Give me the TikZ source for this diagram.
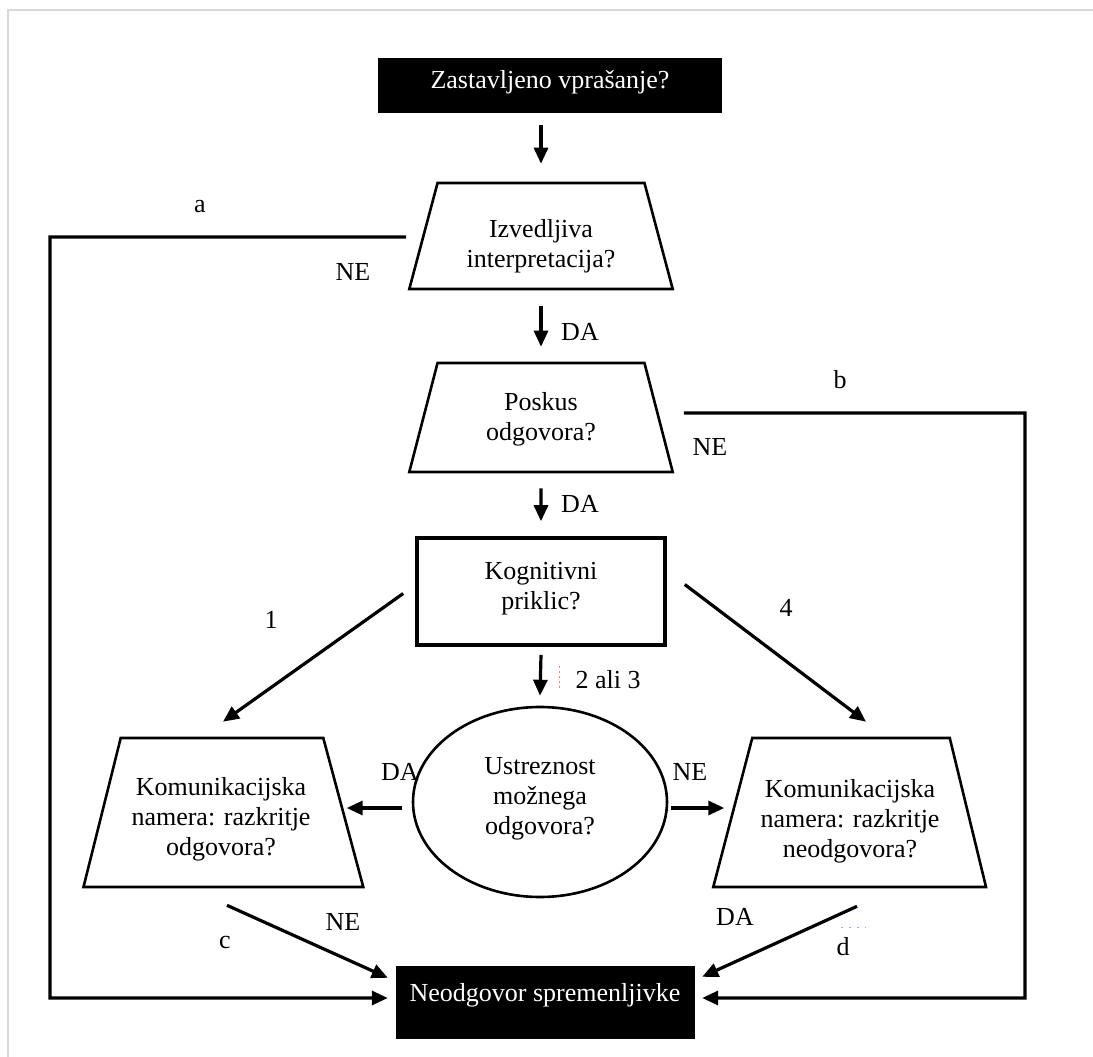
\documentclass[tikz,border=0pt]{standalone}
\usepackage{fontspec}
\setmainfont{Liberation Serif}
\usetikzlibrary{shapes.geometric,arrows.meta}
\begin{document}
\begin{tikzpicture}[x=1pt,y=-1pt,
  font=\fontsize{26}{30}\selectfont,
  arr/.style={line width=3.2pt,-{Triangle[length=16pt,width=14pt]}},
  trap/.style={draw,line width=2.6pt,trapezium,trapezium stretches=true,
    trapezium left angle=76,trapezium right angle=76,inner sep=0pt},
  blk/.style={fill=black,inner sep=0pt},
  lbl/.style={inner sep=0pt},
  txt/.style={inner sep=0pt,align=center}]
\path[use as bounding box] (0,0) rectangle (1093,1057);
\draw[gray!30,line width=1.5pt] (8,1057) -- (8,10) -- (1093,10);

% shapes
\node[blk,minimum width=344,minimum height=55] (q) at (550,85.5) {};
\node[trap,trapezium left angle=79.5,trapezium right angle=79.5,minimum width=264,minimum height=106] (t1) at (541,236) {\phantom{M}};
\node[trap,trapezium left angle=79.5,trapezium right angle=79.5,minimum width=264,minimum height=109] (t2) at (541,417.5) {\phantom{M}};
\node[draw,line width=3.6pt,minimum width=248,minimum height=107] (kp) at (541,591.5) {};
\node[draw,ellipse,line width=2.6pt,minimum width=254,minimum height=190,inner sep=0pt] (el) at (540,802) {};
\node[trap,trapezium right angle=75,minimum width=280,minimum height=149] (kl) at (222,812.5) {\phantom{M}};
\node[trap,trapezium left angle=75,minimum width=273,minimum height=149] (kr) at (851,812.5) {\phantom{M}};
\node[blk,minimum width=299,minimum height=73] (nr) at (545.5,1002.5) {};

% texts
\node[txt,text=white] (qt) at (550,82) {Zastavljeno vprašanje?};
\node[txt] (t1t) at (541,246) {Izvedljiva\\interpretacija?};
\node[txt] (t2t) at (541,419) {Poskus\\odgovora?};
\node[txt] (kpt) at (541,589) {Kognitivni\\priklic?};
\node[txt] (elt) at (540,799) {Ustreznost\\možnega\\odgovora?};
\node[txt] (klt) at (221,819) {Komunikacijska\\namera: razkritje\\odgovora?};
\node[txt] (krt) at (850,821) {Komunikacijska\\namera: razkritje\\neodgovora?};
\node[txt,text=white] (nrt) at (545,995) {Neodgovor spremenljivke};

\coordinate (aL) at (50,237);
\coordinate (bR) at (1025,413);

% connectors
\draw[arr] ([yshift=-12]q.south -| t1.north) -- ([yshift=18]t1.north);
\draw[arr] ([yshift=-16]t1.south) -- ([yshift=15]t2.north);
\draw[arr] ([yshift=-15]t2.south) -- ([yshift=15]kp.north);
\draw[arr] ([yshift=-8]kp.south) -- ([yshift=10]el.north);
\draw[arr] ([xshift=-12,yshift=-2]kp.west) -- ([xshift=1,yshift=15]kl.north);
\draw[arr] ([xshift=18,yshift=7]kp.east) -- ([xshift=15,yshift=15]kr.north);
\draw[arr] ([xshift=-10,yshift=-6]el.west) -- +(-55,0);
\draw[arr] ([xshift=3,yshift=-6]el.east) -- +(53,0);
\draw[arr] ([xshift=5,yshift=-17]kl.south) -- ([xshift=-8,yshift=-12]nr.north west);
\draw[arr] ([xshift=6,yshift=-18]kr.south) -- ([xshift=7,yshift=-11]nr.north east);
\draw[arr] ([xshift=-16,yshift=-1]t1.west) -- (aL) |- ([xshift=-8,yshift=4.5]nr.west);
\draw[arr] ([xshift=24,yshift=4.5]t2.east) -- (bR) |- ([xshift=7,yshift=4.5]nr.east);

% labels
\node[lbl] (la) at (200,207) {a};
\node[lbl] (lne1) at (353,272) {NE};
\node[lbl] (lda1) at (580,332) {DA};
\node[lbl] (lb) at (840,380) {b};
\node[lbl] (lne2) at (710,447) {NE};
\node[lbl] (lda2) at (580,504) {DA};
\node[lbl] (l1) at (271,620) {1};
\node[lbl] (l4) at (786,608) {4};
\node[lbl] (l23) at (608,680) {2 ali 3};
\node[lbl] (lda3) at (400,772) {DA};
\node[lbl] (lne3) at (690,772) {NE};
\node[lbl] (lne4) at (343,922) {NE};
\node[lbl] (lc) at (225,942) {c};
\node[lbl] (lda4) at (735,917) {DA};
\node[lbl] (ld) at (843,947) {d};

% tiny marks
\draw[red!55,line width=0.8pt,dash pattern=on 2pt off 3pt] (559,666) -- (559,690);
\draw[blue!35,line width=0.8pt,dash pattern=on 2pt off 6pt] (841,927) -- (866,927);
\end{tikzpicture}
\end{document}
